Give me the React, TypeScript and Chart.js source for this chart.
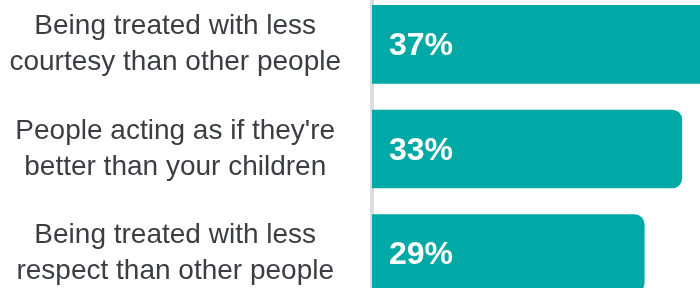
import React, { useEffect, useRef } from "react";
import { Chart, registerables } from "chart.js";

Chart.register(...registerables);

const categories: string[][] = [
  ["Being treated with less", "courtesy than other people"],
  ["People acting as if they're", "better than your children"],
  ["Being treated with less", "respect than other people"],
];
const values: number[] = [37, 33, 29];
const valueLabels: string[] = values.map((v) => `${v}%`);

const FONT = '"Liberation Sans", Arial, sans-serif';

const valueLabelPlugin = {
  id: "valueLabelPlugin",
  afterDatasetsDraw(chart: any) {
    const { ctx } = chart;
    const meta = chart.getDatasetMeta(0);
    ctx.save();
    ctx.font = `bold 32px ${FONT}`;
    ctx.fillStyle = "#ffffff";
    ctx.textAlign = "left";
    ctx.textBaseline = "middle";
    meta.data.forEach((bar: any, i: number) => {
      const { base, y } = bar.getProps(["base", "y"], true);
      ctx.fillText(valueLabels[i], base + 17, y + 2);
    });
    ctx.restore();
  },
};

export default function App() {
  const canvasRef = useRef<HTMLCanvasElement | null>(null);

  useEffect(() => {
    if (!canvasRef.current) return;
    const chart = new Chart(canvasRef.current, {
      type: "bar",
      data: {
        labels: categories,
        datasets: [
          {
            data: values,
            backgroundColor: "#00a9a5",
            borderWidth: 0,
            borderSkipped: false,
            borderRadius: { topLeft: 0, bottomLeft: 0, topRight: 10, bottomRight: 10 },
            barThickness: 78,
          },
        ],
      },
      options: {
        indexAxis: "y",
        animation: false,
        responsive: true,
        maintainAspectRatio: false,
        layout: { padding: 0 },
        plugins: {
          legend: { display: false },
          tooltip: { enabled: false },
          title: { display: false },
        },
        scales: {
          x: {
            display: false,
            min: 0,
            max: 36,
          },
          y: {
            grid: { display: false, drawTicks: false },
            border: { display: true, color: "#dcdde0", width: 4 },
            ticks: {
              crossAlign: "center",
              padding: 31,
              color: "#3a3e43",
              font: { family: FONT, size: 28, lineHeight: 1.28 },
            },
            afterFit: (scale: any) => {
              scale.width = 372;
              scale.paddingTop = 0;
              scale.paddingBottom = 0;
            },
          },
        },
      },
      plugins: [valueLabelPlugin],
    });
    return () => chart.destroy();
  }, []);

  return (
    <div
      style={{
        position: "fixed",
        left: 0,
        top: 0,
        width: 700,
        height: 288,
        overflow: "hidden",
        background: "#ffffff",
      }}
    >
      <div style={{ position: "absolute", left: 0, top: -8, width: 710, height: 314 }}>
        <canvas ref={canvasRef} />
      </div>
    </div>
  );
}
